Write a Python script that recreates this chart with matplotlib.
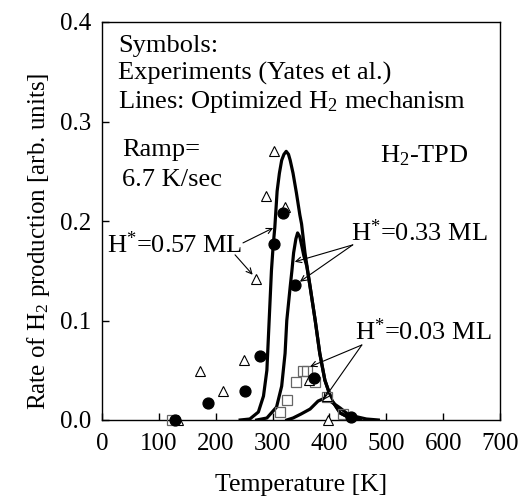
import matplotlib
matplotlib.use("Agg")
import matplotlib.pyplot as plt

plt.rcParams['font.family'] = ['Liberation Serif', 'DejaVu Serif']
plt.rcParams['mathtext.fontset'] = 'custom'
plt.rcParams['mathtext.rm'] = 'Liberation Serif'
plt.rcParams['mathtext.it'] = 'Liberation Serif:italic'
plt.rcParams['mathtext.bf'] = 'Liberation Serif:bold'

# Experimental data (Yates et al.)
circ_T = [128, 187, 251, 278, 303, 318, 339, 372, 438]
circ_y = [0.0, 0.017, 0.029, 0.064, 0.177, 0.208, 0.136, 0.042, 0.003]

tri_T = [134, 172, 212, 250, 270, 288, 303, 322, 364, 395, 397]
tri_y = [0.0, 0.049, 0.029, 0.060, 0.142, 0.225, 0.270, 0.214, 0.040, 0.024, 0.0]

sq_T = [123, 313, 326, 342, 354, 360, 375, 395, 424]
sq_y = [0.0, 0.008, 0.020, 0.038, 0.049, 0.049, 0.038, 0.023, 0.006]

# Model lines (optimized H2 mechanism)
l57_T = [243, 260, 275, 284, 290, 294, 298, 301, 304, 306, 308, 312, 316, 320, 324,
         328, 331, 336, 342, 348, 351, 357, 366, 375, 383, 392, 404, 419, 436, 454]
l57_y = [0.0, 0.001, 0.008, 0.024, 0.050, 0.100, 0.150, 0.175, 0.194, 0.212, 0.230,
         0.248, 0.261, 0.267, 0.270, 0.267, 0.261, 0.248, 0.228, 0.206, 0.197, 0.168,
         0.134, 0.100, 0.067, 0.040, 0.020, 0.007, 0.002, 0.0]

l33_T = [272, 290, 307, 316, 322, 325, 331, 334, 337, 341, 344, 348, 351, 355, 360,
         366, 375, 383, 392, 404, 419, 436, 454]
l33_y = [0.0, 0.002, 0.013, 0.034, 0.067, 0.100, 0.134, 0.150, 0.168, 0.182, 0.188,
         0.184, 0.176, 0.165, 0.155, 0.134, 0.100, 0.067, 0.040, 0.020, 0.007, 0.002, 0.0]

l03_T = [325, 336, 350, 366, 380, 392, 404, 419, 430, 442, 465, 486]
l03_y = [0.0, 0.002, 0.006, 0.011, 0.019, 0.022, 0.018, 0.012, 0.007, 0.004, 0.001, 0.0]

x_ticks = [0, 100, 200, 300, 400, 500, 600, 700]
y_ticks = [0.0, 0.1, 0.2, 0.3, 0.4]

fig = plt.figure(figsize=(5.23, 5.0), dpi=100)
ax = fig.add_axes([102/523, 80/500, 398/523, 398/500])

lw = 2.3
ax.plot(l57_T, l57_y, color='black', lw=lw, zorder=2)
ax.plot(l33_T, l33_y, color='black', lw=lw, zorder=2)
ax.plot(l03_T, l03_y, color='black', lw=lw, zorder=2)

ax.plot(sq_T, sq_y, ls='none', marker='s', ms=7, mfc='none', mec='#666666', mew=0.9,
        clip_on=False, zorder=3)
ax.plot(tri_T, tri_y, ls='none', marker='^', ms=6.5, mfc='white', mec='black', mew=0.8,
        clip_on=False, zorder=3)
ax.plot(circ_T, circ_y, ls='none', marker='o', ms=7.8, mfc='black', mec='black',
        clip_on=False, zorder=4)

ax.set_xlim(0, 700)
ax.set_ylim(0, 0.4)
ax.set_xticks(x_ticks)
ax.set_yticks(y_ticks)
ax.set_xticklabels([str(v) for v in x_ticks])
ax.set_yticklabels(['%.1f' % v for v in y_ticks])
ax.tick_params(direction='in', length=5, width=1, labelsize=18)
ax.tick_params(axis='x', pad=9)
ax.tick_params(axis='y', pad=8)
for s in ax.spines.values():
    s.set_linewidth(1.0)

ax.set_xlabel('Temperature [K]', fontsize=18.5, labelpad=14)
ax.set_ylabel('Rate of H$_2$ production [arb. units]', fontsize=18)
ax.yaxis.set_label_coords(-0.125, 0.45)

fs = 19
ax.text(28, 0.376, 'Symbols:', fontsize=fs, va='center', ha='left')
ax.text(28, 0.348, 'Experiments (Yates et al.)', fontsize=fs, va='center', ha='left')
ax.text(28, 0.3195, 'Lines: Optimized H$_2$ mechanism', fontsize=fs, va='center', ha='left')
ax.text(35, 0.271, 'Ramp=', fontsize=fs, va='center', ha='left')
ax.text(35, 0.241, '6.7 K/sec', fontsize=fs, va='center', ha='left')
ax.text(489, 0.266, 'H$_2$-TPD', fontsize=fs, va='center', ha='left')

afs = 19
arrow = dict(arrowstyle='->', lw=0.8, color='black', shrinkA=0, shrinkB=0)
ax.text(128, 0.176, 'H$^{*}$=0.57 ML', fontsize=afs, va='center', ha='center')
ax.annotate('', xy=(301, 0.193), xytext=(248, 0.178), arrowprops=arrow)
ax.annotate('', xy=(265, 0.146), xytext=(234, 0.166), arrowprops=arrow)

ax.text(558, 0.188, 'H$^{*}$=0.33 ML', fontsize=afs, va='center', ha='center')
ax.annotate('', xy=(339, 0.159), xytext=(441, 0.176), arrowprops=arrow)
ax.annotate('', xy=(348, 0.139), xytext=(441, 0.176), arrowprops=arrow)

ax.text(565, 0.0887, 'H$^{*}$=0.03 ML', fontsize=afs, va='center', ha='center')
ax.annotate('', xy=(366, 0.0536), xytext=(457, 0.0754), arrowprops=arrow)
ax.annotate('', xy=(389, 0.020), xytext=(457, 0.0754), arrowprops=arrow)

fig.savefig('out.png', dpi=100)
